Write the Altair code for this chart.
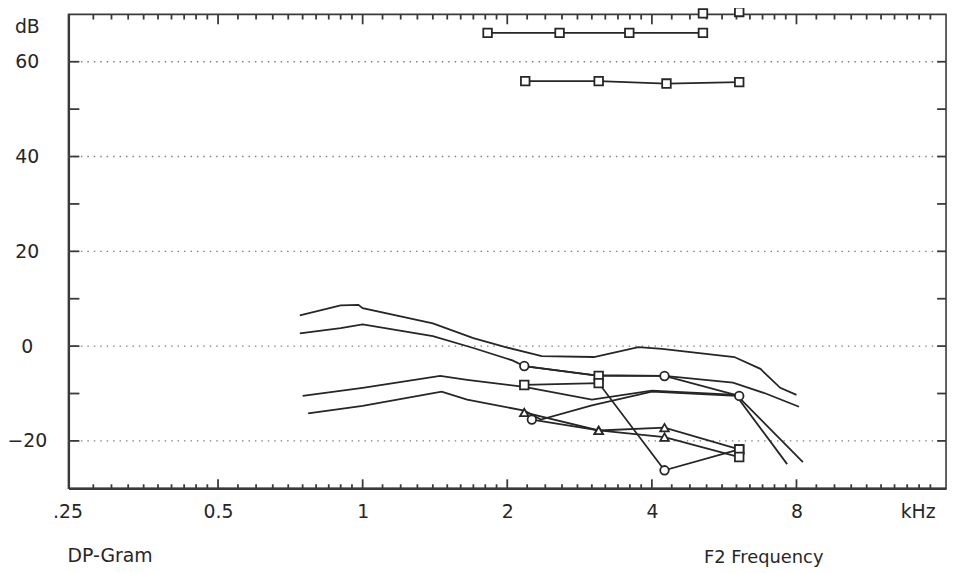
import altair as alt
import pandas as pd

W, H = 885, 478
INK = "#262626"
FRAME = "#3a3a3a"
FONT = "DejaVu Sans"

# ---- smooth curves (kHz, dB) ----
curve_a_f = [0.74, 0.9, 0.98, 1.0, 1.4, 1.7, 2.0, 2.36, 3.03, 3.75, 4.2, 5.94, 6.73, 7.4, 8.0]
curve_a_db = [6.5, 8.6, 8.7, 8.0, 4.8, 1.7, -0.3, -2.1, -2.3, -0.2, -0.6, -2.3, -4.8, -8.8, -10.3]

curve_b_f = [0.74, 0.9, 1.0, 1.4, 1.7, 2.05, 2.17, 3.03, 4.25, 5.9, 6.9, 8.1]
curve_b_db = [2.7, 3.8, 4.6, 2.1, -0.4, -3.0, -4.2, -6.1, -6.3, -7.7, -10.0, -12.8]

curve_c_f = [0.75, 1.0, 1.45, 1.65, 2.17, 3.0, 4.0, 6.0, 8.25]
curve_c_db = [-10.5, -8.8, -6.3, -7.1, -8.6, -11.3, -9.4, -10.3, -24.5]

curve_d_f = [0.77, 1.0, 1.46, 1.65, 2.17, 2.35, 3.0, 4.0, 6.0, 7.65]
curve_d_db = [-14.2, -12.6, -9.6, -11.3, -13.6, -15.5, -12.5, -9.6, -10.5, -24.9]

# ---- marker series ----
s1_f = [2.17, 3.1, 4.25, 6.08]
s1_db = [-4.2, -6.3, -6.3, -10.5]
s1_shape = ["circle", "square", "circle", "circle"]

s2_f = [2.17, 3.1, 4.25, 6.08]
s2_db = [-8.2, -7.8, -26.2, -21.8]
s2_shape = ["square", "square", "circle", "square"]

s3_f = [2.17, 3.1, 4.25, 6.08]
s3_db = [-14.0, -17.8, -17.2, -21.8]
s3_shape = ["triangle-up", "triangle-up", "triangle-up", "square"]

s4_f = [2.25, 3.1, 4.25, 6.08]
s4_db = [-15.5, -17.8, -19.2, -23.4]
s4_shape = ["circle", "triangle-up", "triangle-up", "square"]

# ---- stimulus level rows (top) ----
r1_f = [4.29, 5.11, 6.08]
r1_db = [71.5, 70.2, 70.5]
r1_shape = ["none", "square", "square"]

r2_f = [1.82, 2.57, 3.59, 5.11]
r2_db = [66.1, 66.1, 66.1, 66.1]
r2_shape = ["square", "square", "square", "square"]

r3_f = [2.18, 3.10, 4.29, 6.08]
r3_db = [55.9, 55.9, 55.4, 55.7]
r3_shape = ["square", "square", "square", "square"]

# ---- axis values ----
x_label_values = [0.25, 0.5, 1, 2, 4, 8, 16]
x_major_ticks = [0.5, 1.0, 2.0, 4.0, 8.0]
x_minor_ticks = [0.275, 0.3, 0.325, 0.35, 0.375, 0.4, 0.425, 0.45, 0.475,
                 0.55, 0.6, 0.65, 0.7, 0.75, 0.8, 0.85, 0.9, 0.95,
                 1.1, 1.2, 1.3, 1.4, 1.5, 1.6, 1.7, 1.8, 1.9,
                 2.2, 2.4, 2.6, 2.8, 3.0, 3.2, 3.4, 3.6, 3.8,
                 4.4, 4.8, 5.2, 5.6, 6.0, 6.4, 6.8, 7.2, 7.6,
                 8.8, 9.6, 10.4, 11.2, 12.0, 12.8, 13.6, 14.4, 15.2]
y_label_values = [-20, 0, 20, 40, 60, 67.5]
y_ticks = [-20, -10, 0, 10, 20, 30, 40, 50, 60]
y_grid = [-20, 0, 20, 40, 60]

xscale = alt.Scale(type="log", base=2, domain=[0.25, 16], nice=False)
yscale = alt.Scale(domain=[-30, 70], nice=False)

line_rows = []
for name, fs, ds in [("A", curve_a_f, curve_a_db), ("B", curve_b_f, curve_b_db),
                     ("C", curve_c_f, curve_c_db), ("D", curve_d_f, curve_d_db),
                     ("S1", s1_f, s1_db), ("S2", s2_f, s2_db),
                     ("S3", s3_f, s3_db), ("S4", s4_f, s4_db),
                     ("R1", r1_f, r1_db), ("R2", r2_f, r2_db), ("R3", r3_f, r3_db)]:
    for i, (f, d) in enumerate(zip(fs, ds)):
        line_rows.append({"series": name, "f": f, "db": d, "i": i})
lines_df = pd.DataFrame(line_rows)

pt_rows = []
for fs, ds, ss in [(s1_f, s1_db, s1_shape), (s2_f, s2_db, s2_shape),
                   (s3_f, s3_db, s3_shape), (s4_f, s4_db, s4_shape),
                   (r1_f, r1_db, r1_shape), (r2_f, r2_db, r2_shape),
                   (r3_f, r3_db, r3_shape)]:
    for f, d, s in zip(fs, ds, ss):
        if s != "none":
            pt_rows.append({"f": f, "db": d, "shape": s})
pts_df = pd.DataFrame(pt_rows)

# inward x ticks: thin bars spanning a small dB range at the top and bottom edges
tick_rows = []
for v in x_major_ticks:
    tick_rows.append({"f": v, "lo": 67.9, "hi": 70.0, "kind": "major"})
    tick_rows.append({"f": v, "lo": -30.0, "hi": -28.1, "kind": "major"})
for v in x_minor_ticks:
    tick_rows.append({"f": v, "lo": 68.9, "hi": 70.0, "kind": "minor"})
    tick_rows.append({"f": v, "lo": -30.0, "hi": -29.15, "kind": "minor"})
ticks_df = pd.DataFrame(tick_rows)

x_label_expr = ("datum.value == 0.25 ? '.25' : datum.value == 0.5 ? '0.5' : "
                "datum.value == 16 ? 'kHz' : format(datum.value, 'd')")

x_axis = alt.Axis(
    values=x_label_values, labelExpr=x_label_expr, grid=False, ticks=False, tickSize=0,
    labelFlush=False, labelFont=FONT, labelFontSize=19, labelColor=INK, labelPadding=14,
    labelAlign={"condition": {"test": "datum.value == 16", "value": "right"}, "value": "center"},
    labelOffset={"condition": {"test": "datum.value == 16 || datum.value == 0.25", "value": -6}, "value": 0},
    domainColor=FRAME, domainWidth=2.2, title=None,
)
y_axis = alt.Axis(
    values=y_label_values, labelExpr="datum.value == 67.5 ? 'dB' : datum.label",
    grid=False, ticks=False, tickSize=0, labelFont=FONT, labelFontSize=19, labelColor=INK,
    labelAlign="center", labelBaseline="middle", labelPadding=42, labelFlush=False,
    domainColor=FRAME, domainWidth=2.2, title=None,
)

grid = alt.Chart(pd.DataFrame({"g": y_grid})).mark_rule(
    strokeDash=[1.5, 5], color="#808080", strokeWidth=1.4
).encode(y=alt.Y("g:Q", scale=yscale, axis=y_axis))

ydf = pd.DataFrame({"v": y_ticks})
left_ticks = alt.Chart(ydf).mark_rule(color=FRAME, strokeWidth=1.8).encode(
    y=alt.Y("v:Q", scale=yscale, title=None), x=alt.value(0), x2=alt.value(11))
right_ticks = alt.Chart(ydf).mark_rule(color=FRAME, strokeWidth=1.8).encode(
    y=alt.Y("v:Q", scale=yscale, title=None), x=alt.value(W), x2=alt.value(W - 9))

x_ticks = alt.Chart(ticks_df).mark_bar(color=FRAME, size=1.8, opacity=1).encode(
    x=alt.X("f:Q", scale=xscale, title=None),
    y=alt.Y("lo:Q", scale=yscale, title=None),
    y2="hi:Q",
)

lines = alt.Chart(lines_df).mark_line(color=INK, strokeWidth=1.8, clip=True).encode(
    x=alt.X("f:Q", scale=xscale, axis=x_axis),
    y=alt.Y("db:Q", scale=yscale, title=None),
    detail="series:N",
    order="i:Q",
)

points = alt.Chart(pts_df).mark_point(
    filled=False, fill="white", fillOpacity=1, color=INK, strokeWidth=1.8, size=75, opacity=1
).encode(
    x=alt.X("f:Q", scale=xscale, title=None),
    y=alt.Y("db:Q", scale=yscale, title=None),
    shape=alt.Shape("shape:N", scale=None),
)

txt_df = pd.DataFrame({"label": ["x"]})
dp = alt.Chart(txt_df).mark_text(
    text="DP-Gram", font=FONT, fontSize=19, color=INK, align="left", baseline="middle"
).encode(x=alt.value(-1), y=alt.value(H + 68))
f2 = alt.Chart(txt_df).mark_text(
    text="F2 Frequency", font=FONT, fontSize=18, color=INK, align="left", baseline="middle"
).encode(x=alt.value(641), y=alt.value(H + 70))

chart = alt.layer(
    grid, left_ticks, right_ticks, lines, x_ticks, points, dp, f2
).properties(
    width=W, height=H,
    autosize=alt.AutoSizeParams(type="none"),
    padding={"left": 61, "top": 4, "right": 4, "bottom": 80},
    background="white",
).configure_view(stroke=FRAME, strokeWidth=1.6)

chart.save("out.html", embed_options={"renderer": "svg", "actions": False})
